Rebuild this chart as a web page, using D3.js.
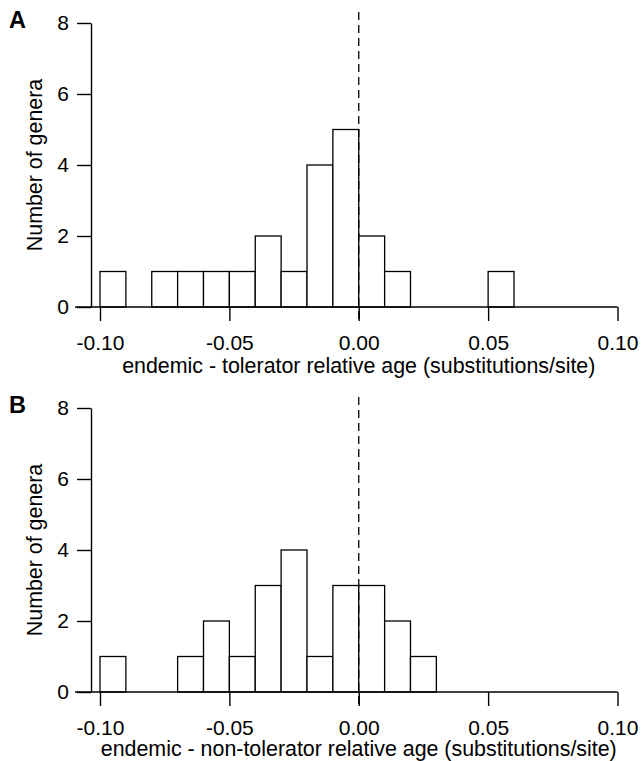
<!DOCTYPE html>
<html>
<head>
<meta charset="utf-8">
<script src="https://cdn.jsdelivr.net/npm/d3@7"></script>
<style>
  html, body { margin: 0; padding: 0; background: #fff; }
  svg { display: block; }
  text { font-family: "Liberation Sans", Arial, Helvetica, sans-serif; fill: #000; }
</style>
</head>
<body>
<svg id="chart" width="641" height="761"></svg>
<script>
// ---- data ----
const binStartsA = [-0.10, -0.09, -0.08, -0.07, -0.06, -0.05, -0.04, -0.03, -0.02, -0.01, 0.00, 0.01, 0.02, 0.03, 0.04, 0.05];
const countsA    = [1, 0, 1, 1, 1, 1, 2, 1, 4, 5, 2, 1, 0, 0, 0, 1];
const binStartsB = [-0.10, -0.09, -0.08, -0.07, -0.06, -0.05, -0.04, -0.03, -0.02, -0.01, 0.00, 0.01, 0.02];
const countsB    = [1, 0, 0, 1, 2, 1, 3, 4, 1, 3, 3, 2, 1];
const binWidth = 0.01;
const xTicks = [-0.10, -0.05, 0.00, 0.05, 0.10];
const yTicks = [0, 2, 4, 6, 8];
const xTitles = ["endemic - tolerator relative age (substitutions/site)",
                 "endemic - non-tolerator relative age (substitutions/site)"];
const panelLabels = ["A", "B"];
const yTitle = "Number of genera";

// ---- layout ----
const svg = d3.select("#chart");
const FONT = 21;
const TFONT = 21.4;
const x = d3.scaleLinear().domain([-0.10, 0.10]).range([100, 617.5]);
const yAxisX = 91;
const panels = [
  {off: 0,   starts: binStartsA, counts: countsA},
  {off: 385, starts: binStartsB, counts: countsB}
];

panels.forEach((p, i) => {
  const g = svg.append("g").attr("transform", `translate(0,${p.off})`);
  const y = d3.scaleLinear().domain([0, 8]).range([307, 23]);

  // bars
  const data = p.starts.map((s, k) => ({x0: s, x1: s + binWidth, n: p.counts[k]}));
  g.selectAll("rect.bar").data(data).join("rect")
    .attr("class", "bar")
    .attr("x", d => x(d.x0))
    .attr("width", d => x(d.x1) - x(d.x0))
    .attr("y", d => y(d.n))
    .attr("height", d => y(0) - y(d.n))
    .attr("fill", "#fff")
    .attr("stroke", "#000")
    .attr("stroke-width", 1.3);

  // baseline (x axis line)
  g.append("line")
    .attr("x1", 75).attr("x2", x(0.10))
    .attr("y1", y(0)).attr("y2", y(0))
    .attr("stroke", "#000").attr("stroke-width", 1.4);

  // dashed zero line
  g.append("line")
    .attr("x1", x(0)).attr("x2", x(0))
    .attr("y1", 12).attr("y2", y(0) + 14)
    .attr("stroke", "#000").attr("stroke-width", 1.3)
    .attr("stroke-dasharray", "8,5");

  // x axis
  const xa = g.append("g").attr("transform", `translate(0,${y(0)})`)
    .call(d3.axisBottom(x).tickValues(xTicks).tickFormat(d3.format(".2f"))
      .tickSize(14).tickSizeOuter(0).tickPadding(14));
  xa.select(".domain").remove();
  xa.selectAll(".tick line").attr("stroke-width", 1.4);
  xa.selectAll("text").style("font-size", FONT + "px").attr("fill", "#000")
    .text(d => d3.format(".2f")(d).replace("−", "-"));

  // y axis
  const ya = g.append("g").attr("transform", `translate(${yAxisX},0)`)
    .call(d3.axisLeft(y).tickValues(yTicks).tickSize(14).tickSizeOuter(0).tickPadding(8));
  ya.select(".domain").attr("stroke-width", 1.4);
  ya.selectAll(".tick line").attr("stroke-width", 1.4);
  ya.selectAll("text").style("font-size", FONT + "px").attr("fill", "#000");

  // x title
  g.append("text")
    .attr("x", x(0)).attr("y", y(0) + 66 - i * 2)
    .attr("text-anchor", "middle")
    .style("font-size", TFONT + "px")
    .text(xTitles[i]);

  // y title
  g.append("text")
    .attr("transform", `translate(42,${(y(0) + y(8)) / 2}) rotate(-90)`)
    .attr("text-anchor", "middle")
    .style("font-size", TFONT + "px")
    .text(yTitle);

  // panel label
  g.append("text")
    .attr("x", 9).attr("y", 28)
    .style("font-size", "23.5px").style("font-weight", "bold")
    .text(panelLabels[i]);
});
</script>
</body>
</html>
